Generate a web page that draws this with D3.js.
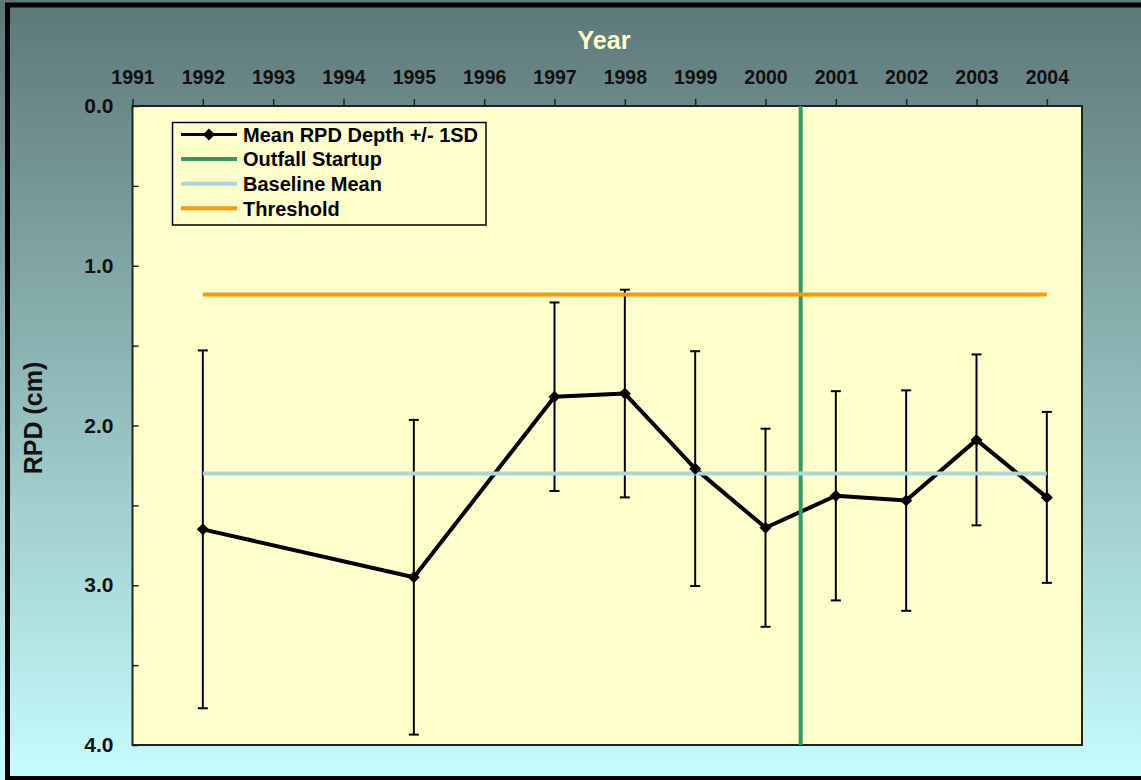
<!DOCTYPE html>
<html>
<head>
<meta charset="utf-8">
<script src="https://cdn.jsdelivr.net/npm/d3@7"></script>
<style>
  html, body { margin: 0; padding: 0; background: #fff; }
  svg { display: block; }
  text { font-family: "Liberation Sans", Arial, sans-serif; font-weight: bold; }
</style>
</head>
<body>
<svg id="chart" width="1141" height="780"></svg>
<script>
// Survey years and mean RPD depth (cm) with one standard deviation
const years = [1992, 1995, 1997, 1998, 1999, 2000, 2001, 2002, 2003, 2004];
const meanRPD = [2.65, 2.95, 1.82, 1.80, 2.27, 2.64, 2.44, 2.47, 2.09, 2.45];
const sdRPD = [1.12, 0.985, 0.59, 0.65, 0.735, 0.62, 0.655, 0.69, 0.535, 0.535];

// Reference levels
const thresholdRPD = 1.18;
const baselineMeanRPD = 2.30;
const outfallStartup = 2000.5;
const refSpan = [1992, 2004];

// Axis ticks
const yearTicks = d3.range(1991, 2005);
const depthTicks = d3.range(0, 4.01, 0.5);

const legendLabels = ["Mean RPD Depth +/- 1SD", "Outfall Startup", "Baseline Mean", "Threshold"];

const colors = {
  mean: "#000000",
  outfall: "#339966",
  baseline: "#acd5dc",
  threshold: "#ff9900",
  plotBg: "#ffffcc"
};

const svg = d3.select("#chart");
const W = 1141, H = 780;
const plot = { left: 132.5, right: 1082, top: 106, bottom: 745 };

// Background gradient
const defs = svg.append("defs");
const grad = defs.append("linearGradient").attr("id", "bgGrad")
  .attr("x1", 0).attr("y1", 0).attr("x2", 0).attr("y2", 1);
grad.append("stop").attr("offset", "0%").attr("stop-color", "#5d7777");
grad.append("stop").attr("offset", "100%").attr("stop-color", "#c6fdfd");

svg.append("rect").attr("x", 0).attr("y", 0).attr("width", W).attr("height", H)
  .attr("fill", "url(#bgGrad)");
svg.append("rect").attr("x", 7.5).attr("y", 5).attr("width", 1160).attr("height", 773.5)
  .attr("fill", "none").attr("stroke", "#000").attr("stroke-width", 5);

const x = d3.scaleLinear().domain([1991, 2004.5]).range([plot.left, plot.right]);
const y = d3.scaleLinear().domain([0, 4]).range([plot.top, plot.bottom]);

// Plot area
svg.append("rect")
  .attr("x", plot.left).attr("y", plot.top)
  .attr("width", plot.right - plot.left).attr("height", plot.bottom - plot.top)
  .attr("fill", colors.plotBg).attr("stroke", "#222").attr("stroke-width", 2);

// Top year axis
const xAxis = svg.append("g").attr("transform", `translate(0,${plot.top})`)
  .call(d3.axisTop(x).tickValues(yearTicks).tickFormat(d3.format("d"))
    .tickSize(7).tickPadding(15));
xAxis.select(".domain").remove();
xAxis.selectAll(".tick line").attr("stroke", "#222").attr("stroke-width", 1.5);
xAxis.selectAll(".tick text").attr("font-size", 19.5).attr("fill", "#111")
  .attr("font-family", "Liberation Sans, Arial, sans-serif").attr("font-weight", "bold");

// Left depth axis, ticks pointing inward
const yAxis = svg.append("g").attr("transform", `translate(${plot.left},0)`)
  .call(d3.axisLeft(y).tickValues(depthTicks)
    .tickFormat(d => Number.isInteger(d) ? d3.format(".1f")(d) : "")
    .tickSize(-6).tickPadding(19));
yAxis.select(".domain").remove();
yAxis.selectAll(".tick line").attr("stroke", "#222").attr("stroke-width", 1.5);
yAxis.selectAll(".tick text").attr("font-size", 21).attr("fill", "#111")
  .attr("font-family", "Liberation Sans, Arial, sans-serif").attr("font-weight", "bold");

// Axis titles
svg.append("text").attr("x", 604).attr("y", 48.5).attr("text-anchor", "middle")
  .attr("font-size", 25).attr("fill", "#ffffcc").text("Year");
svg.append("text").attr("transform", "translate(42,418) rotate(-90)")
  .attr("text-anchor", "middle").attr("font-size", 25).attr("fill", "#111").text("RPD (cm)");

const pts = years.map((yr, i) => ({ year: yr, mean: meanRPD[i], sd: sdRPD[i] }));

// Error bars
const eb = svg.append("g").attr("stroke", "#000").attr("stroke-width", 2);
pts.forEach(p => {
  const cx = x(p.year), y0 = y(p.mean - p.sd), y1 = y(p.mean + p.sd);
  eb.append("line").attr("x1", cx).attr("x2", cx).attr("y1", y0).attr("y2", y1);
  eb.append("line").attr("x1", cx - 5).attr("x2", cx + 5).attr("y1", y0).attr("y2", y0);
  eb.append("line").attr("x1", cx - 5).attr("x2", cx + 5).attr("y1", y1).attr("y2", y1);
});

// Mean line
const line = d3.line().x(d => x(d.year)).y(d => y(d.mean));
svg.append("path").datum(pts).attr("d", line).attr("fill", "none")
  .attr("stroke", colors.mean).attr("stroke-width", 4).attr("stroke-linejoin", "round");

// Outfall startup
svg.append("line").attr("x1", x(outfallStartup)).attr("x2", x(outfallStartup))
  .attr("y1", y(0)).attr("y2", y(4)).attr("stroke", colors.outfall).attr("stroke-width", 4);

// Baseline mean and threshold
svg.append("line").attr("x1", x(refSpan[0])).attr("x2", x(refSpan[1]))
  .attr("y1", y(baselineMeanRPD)).attr("y2", y(baselineMeanRPD))
  .attr("stroke", colors.baseline).attr("stroke-width", 4);
svg.append("line").attr("x1", x(refSpan[0])).attr("x2", x(refSpan[1]))
  .attr("y1", y(thresholdRPD)).attr("y2", y(thresholdRPD))
  .attr("stroke", colors.threshold).attr("stroke-width", 4);

// Diamond markers
const diamond = d3.symbol().type(d3.symbolSquare).size(72);
svg.append("g").selectAll("path").data(pts).join("path")
  .attr("d", diamond)
  .attr("transform", d => `translate(${x(d.year)},${y(d.mean)}) rotate(45)`)
  .attr("fill", "#000");

// Legend
const lg = svg.append("g");
lg.append("rect").attr("x", 172.5).attr("y", 122.5).attr("width", 313.5).attr("height", 102.5)
  .attr("fill", colors.plotBg).attr("stroke", "#000").attr("stroke-width", 1.5);
const legendColors = [colors.mean, colors.outfall, colors.baseline, colors.threshold];
legendLabels.forEach((lab, i) => {
  const cy = 134.5 + i * 24.6;
  lg.append("line").attr("x1", 181).attr("x2", 237).attr("y1", cy).attr("y2", cy)
    .attr("stroke", legendColors[i]).attr("stroke-width", i === 0 ? 3 : 4);
  if (i === 0) {
    lg.append("path").attr("d", diamond)
      .attr("transform", `translate(209,${cy}) rotate(45)`).attr("fill", "#000");
  }
  lg.append("text").attr("x", 243).attr("y", cy).attr("dy", "0.36em")
    .attr("font-size", 20).attr("fill", "#000").text(lab);
});
</script>
</body>
</html>
